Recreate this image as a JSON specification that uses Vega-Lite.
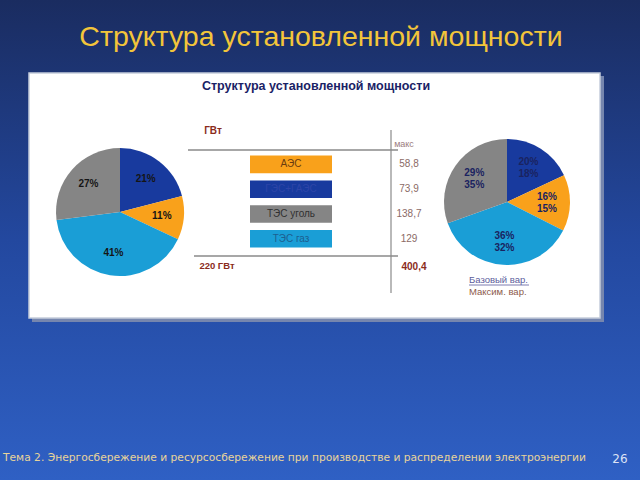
{
  "$schema": "https://vega.github.io/schema/vega-lite/v6.json",
  "width": 640,
  "height": 480,
  "padding": 0,
  "autosize": {"type": "fit", "contains": "padding"},
  "background": "#1a2c60",
  "config": {"view": {"stroke": null}, "text": {"font": "Liberation Sans"}},
  "datasets": {
    "pies": [
      {"pie": "L", "cat": "ГЭС+ГАЭС", "k": 1, "v": 21, "lab": "21%"},
      {"pie": "L", "cat": "АЭС", "k": 2, "v": 11, "lab": "11%"},
      {"pie": "L", "cat": "ТЭС газ", "k": 3, "v": 41, "lab": "41%"},
      {"pie": "L", "cat": "ТЭС уголь", "k": 4, "v": 27, "lab": "27%"},
      {"pie": "R", "cat": "ГЭС+ГАЭС", "k": 1, "v": 18, "base": "20%", "max": "18%"},
      {"pie": "R", "cat": "АЭС", "k": 2, "v": 14.5, "base": "16%", "max": "15%"},
      {"pie": "R", "cat": "ТЭС газ", "k": 3, "v": 37, "base": "36%", "max": "32%"},
      {"pie": "R", "cat": "ТЭС уголь", "k": 4, "v": 30.5, "base": "29%", "max": "35%"}
    ],
    "table": [
      {"cat": "АЭС", "name": "АЭС", "max": "58,8"},
      {"cat": "ГЭС+ГАЭС", "name": "ГЭС+ГАЭС", "max": "73,9"},
      {"cat": "ТЭС уголь", "name": "ТЭС уголь", "max": "138,7"},
      {"cat": "ТЭС газ", "name": "ТЭС газ", "max": "129"}
    ],
    "one": [{}]
  },
  "resolve": {"scale": {"y": "independent"}},
  "layer": [
    {
      "layer": [
        {
          "data": {"name": "one"},
          "mark": {"type": "rect", "color": {"gradient": "linear", "x1": 0, "y1": 0, "x2": 0, "y2": 1, "stops": [{"offset": 0, "color": "#1a2c60"}, {"offset": 0.5, "color": "#23489f"}, {"offset": 1, "color": "#2f60c4"}]}},
          "encoding": {
            "x": {"datum": 0, "type": "quantitative", "scale": {"domain": [0, 640], "nice": false, "zero": false}, "axis": null},
            "x2": {"datum": 640},
            "y": {"datum": 0, "type": "quantitative", "scale": {"domain": [0, 480], "nice": false, "zero": false, "reverse": true}, "axis": null},
            "y2": {"datum": 480}
          }
        },
        {
          "data": {"name": "one"},
          "mark": {"type": "rect", "color": "#7686ae"},
          "encoding": {
            "x": {"datum": 32, "type": "quantitative"},
            "x2": {"datum": 604},
            "y": {"datum": 76, "type": "quantitative"},
            "y2": {"datum": 322}
          }
        },
        {
          "data": {"name": "one"},
          "mark": {"type": "rect", "fill": "#ffffff", "stroke": "#c5cddc", "strokeWidth": 1.5},
          "encoding": {
            "x": {"datum": 29, "type": "quantitative"},
            "x2": {"datum": 600},
            "y": {"datum": 73, "type": "quantitative"},
            "y2": {"datum": 318}
          }
        },
        {
          "data": {"name": "one"},
          "mark": {"type": "text", "text": "Структура установленной мощности", "fontSize": 28.5, "color": "#f3c53a", "align": "center", "baseline": "middle"},
          "encoding": {"x": {"datum": 321, "type": "quantitative"}, "y": {"datum": 37, "type": "quantitative"}}
        },
        {
          "data": {"name": "one"},
          "mark": {"type": "text", "text": "Структура установленной мощности", "fontSize": 12.5, "fontWeight": "bold", "color": "#1a2266", "align": "center", "baseline": "middle"},
          "encoding": {"x": {"datum": 316, "type": "quantitative"}, "y": {"datum": 86, "type": "quantitative"}}
        },
        {
          "data": {"name": "one"},
          "mark": {"type": "rule", "color": "#8a8a8a", "strokeWidth": 1.5},
          "encoding": {"x": {"datum": 188, "type": "quantitative"}, "x2": {"datum": 398}, "y": {"datum": 150, "type": "quantitative"}}
        },
        {
          "data": {"name": "one"},
          "mark": {"type": "rule", "color": "#8a8a8a", "strokeWidth": 1.5},
          "encoding": {"x": {"datum": 194, "type": "quantitative"}, "x2": {"datum": 398}, "y": {"datum": 256, "type": "quantitative"}}
        },
        {
          "data": {"name": "one"},
          "mark": {"type": "rule", "color": "#8a8a8a", "strokeWidth": 1.2},
          "encoding": {"x": {"datum": 391, "type": "quantitative"}, "y": {"datum": 130, "type": "quantitative"}, "y2": {"datum": 293}}
        },
        {
          "data": {"name": "one"},
          "mark": {"type": "text", "text": "ГВт", "fontSize": 10, "fontWeight": "bold", "color": "#8b2c1c", "align": "center", "baseline": "middle"},
          "encoding": {"x": {"datum": 213, "type": "quantitative"}, "y": {"datum": 131, "type": "quantitative"}}
        },
        {
          "data": {"name": "one"},
          "mark": {"type": "text", "text": "макс", "fontSize": 9, "color": "#9a7d7d", "align": "center", "baseline": "middle"},
          "encoding": {"x": {"datum": 404, "type": "quantitative"}, "y": {"datum": 144, "type": "quantitative"}}
        },
        {
          "data": {"name": "one"},
          "mark": {"type": "text", "text": "220 ГВт", "fontSize": 9.5, "fontWeight": "bold", "color": "#8b2c1c", "align": "center", "baseline": "middle"},
          "encoding": {"x": {"datum": 217, "type": "quantitative"}, "y": {"datum": 266, "type": "quantitative"}}
        },
        {
          "data": {"name": "one"},
          "mark": {"type": "text", "text": "400,4", "fontSize": 10, "fontWeight": "bold", "color": "#8b2c1c", "align": "center", "baseline": "middle"},
          "encoding": {"x": {"datum": 414, "type": "quantitative"}, "y": {"datum": 267, "type": "quantitative"}}
        },
        {
          "data": {"name": "one"},
          "mark": {"type": "text", "text": "Базовый вар.", "fontSize": 9.5, "color": "#5c5c9c", "align": "left", "baseline": "middle"},
          "encoding": {"x": {"datum": 469, "type": "quantitative"}, "y": {"datum": 280, "type": "quantitative"}}
        },
        {
          "data": {"name": "one"},
          "mark": {"type": "rule", "color": "#5c5c9c", "strokeWidth": 0.8},
          "encoding": {"x": {"datum": 469, "type": "quantitative"}, "x2": {"datum": 529}, "y": {"datum": 285, "type": "quantitative"}}
        },
        {
          "data": {"name": "one"},
          "mark": {"type": "text", "text": "Максим. вар.", "fontSize": 9.5, "color": "#8c5a4a", "align": "left", "baseline": "middle"},
          "encoding": {"x": {"datum": 469, "type": "quantitative"}, "y": {"datum": 292, "type": "quantitative"}}
        },
        {
          "data": {"name": "one"},
          "mark": {"type": "text", "text": "Тема 2. Энергосбережение и ресурсосбережение при производстве и распределении электроэнергии", "font": "DejaVu Sans", "fontSize": 10.7, "color": "#e8d49a", "align": "left", "baseline": "middle"},
          "encoding": {"x": {"datum": 3, "type": "quantitative"}, "y": {"datum": 458, "type": "quantitative"}}
        },
        {
          "data": {"name": "one"},
          "mark": {"type": "text", "text": "26", "font": "DejaVu Sans", "fontSize": 12, "color": "#dde3f5", "align": "center", "baseline": "middle"},
          "encoding": {"x": {"datum": 620, "type": "quantitative"}, "y": {"datum": 459, "type": "quantitative"}}
        },
        {
          "data": {"name": "pies"},
          "transform": [{"filter": "datum.pie == 'L'"}],
          "mark": {"type": "arc", "radius": 64},
          "encoding": {
            "theta": {"field": "v", "type": "quantitative", "stack": true},
            "color": {"field": "cat", "type": "nominal", "scale": {"domain": ["ГЭС+ГАЭС", "АЭС", "ТЭС газ", "ТЭС уголь"], "range": ["#183a9e", "#f9a11b", "#1a9ed6", "#858585"]}, "legend": null},
            "order": {"field": "k", "type": "quantitative"},
            "x": {"datum": 120, "type": "quantitative"},
            "y": {"datum": 212, "type": "quantitative"}
          }
        },
        {
          "data": {"name": "pies"},
          "transform": [{"filter": "datum.pie == 'R'"}],
          "mark": {"type": "arc", "radius": 63},
          "encoding": {
            "theta": {"field": "v", "type": "quantitative", "stack": true},
            "color": {"field": "cat", "type": "nominal", "legend": null},
            "order": {"field": "k", "type": "quantitative"},
            "x": {"datum": 507, "type": "quantitative"},
            "y": {"datum": 202, "type": "quantitative"}
          }
        },
        {
          "data": {"name": "pies"},
          "transform": [{"filter": "datum.pie == 'L'"}],
          "mark": {"type": "text", "radius": 42, "fontSize": 10, "fontWeight": "bold", "color": "#151515"},
          "encoding": {
            "theta": {"field": "v", "type": "quantitative", "stack": true},
            "order": {"field": "k", "type": "quantitative"},
            "text": {"field": "lab"},
            "x": {"datum": 120, "type": "quantitative"},
            "y": {"datum": 212, "type": "quantitative"}
          }
        },
        {
          "data": {"name": "pies"},
          "transform": [{"filter": "datum.pie == 'R'"}],
          "mark": {"type": "text", "radius": 40, "dy": -6, "fontSize": 10, "fontWeight": "bold", "color": "#1a2360"},
          "encoding": {
            "theta": {"field": "v", "type": "quantitative", "stack": true},
            "order": {"field": "k", "type": "quantitative"},
            "text": {"field": "base"},
            "x": {"datum": 507, "type": "quantitative"},
            "y": {"datum": 202, "type": "quantitative"}
          }
        },
        {
          "data": {"name": "pies"},
          "transform": [{"filter": "datum.pie == 'R'"}],
          "mark": {"type": "text", "radius": 40, "dy": 6, "fontSize": 10, "fontWeight": "bold", "color": "#1a2360"},
          "encoding": {
            "theta": {"field": "v", "type": "quantitative", "stack": true},
            "order": {"field": "k", "type": "quantitative"},
            "text": {"field": "max"},
            "x": {"datum": 507, "type": "quantitative"},
            "y": {"datum": 202, "type": "quantitative"}
          }
        }
      ]
    },
    {
      "data": {"name": "table"},
      "encoding": {
        "y": {"field": "cat", "type": "nominal", "scale": {"type": "band", "domain": ["АЭС", "ГЭС+ГАЭС", "ТЭС уголь", "ТЭС газ"], "range": [152, 251.2], "paddingInner": 0.29, "paddingOuter": 0.145}, "axis": null}
      },
      "layer": [
        {
          "mark": {"type": "rect"},
          "encoding": {
            "x": {"datum": 250, "type": "quantitative"},
            "x2": {"datum": 332},
            "color": {"field": "cat", "type": "nominal", "legend": null}
          }
        },
        {
          "mark": {"type": "text", "fontSize": 10, "align": "center", "baseline": "middle"},
          "encoding": {
            "x": {"datum": 291, "type": "quantitative"},
            "text": {"field": "name"},
            "fill": {"field": "cat", "type": "nominal", "scale": {"domain": ["АЭС", "ГЭС+ГАЭС", "ТЭС уголь", "ТЭС газ"], "range": ["#6a3c10", "#2d45a8", "#303030", "#1d5f90"]}, "legend": null}
          }
        },
        {
          "mark": {"type": "text", "fontSize": 10, "align": "center", "baseline": "middle", "color": "#8b6a66"},
          "encoding": {
            "x": {"datum": 409, "type": "quantitative"},
            "text": {"field": "max"}
          }
        }
      ]
    }
  ]
}
